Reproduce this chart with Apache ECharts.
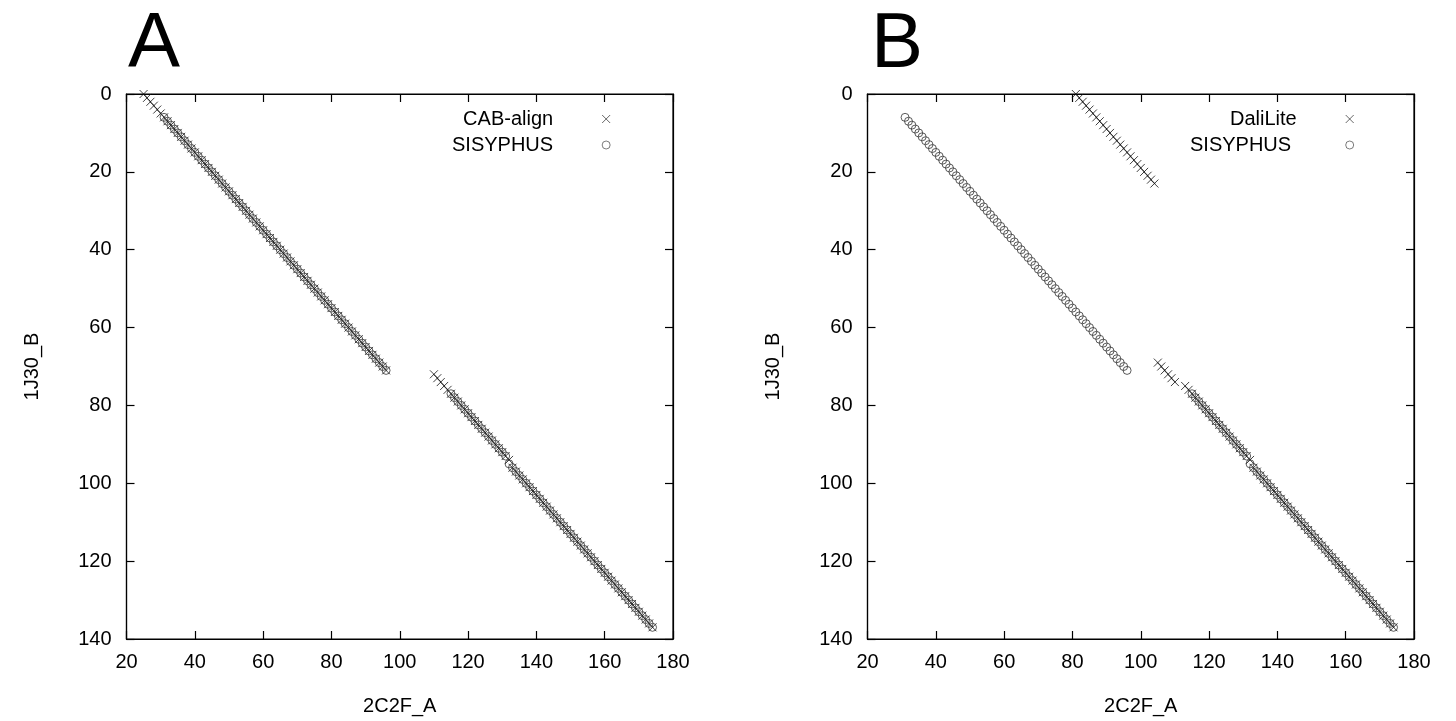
<!DOCTYPE html>
<html>
<head>
<meta charset="utf-8">
<script src="https://cdn.jsdelivr.net/npm/echarts@6/dist/echarts.min.js"></script>
<style>html,body{margin:0;padding:0;background:#fff}#c{width:1456px;height:721px}</style>
</head>
<body>
<div id="c"></div>
<script>
// Panel A: CAB-align alignment (x = 2C2F_A residue, y = 1J30_B residue)
var cabX = [25,26,27,28,29,30,31,32,33,34,35,36,37,38,39,40,41,42,43,44,45,46,47,48,49,50,51,52,53,54,55,56,57,58,59,60,61,62,63,64,65,66,67,68,69,70,71,72,73,74,75,76,77,78,79,80,81,82,83,84,85,86,87,88,89,90,91,92,93,94,95,96,
  110,111,112,113,114,115,116,117,118,119,120,121,122,123,124,125,126,127,128,129,130,131,132,
  133,134,135,136,137,138,139,140,141,142,143,144,145,146,147,148,149,150,151,152,153,154,155,156,157,158,159,160,161,162,163,164,165,166,167,168,169,170,171,172,173,174];
var cabY = [0,1,2,3,4,5,6,7,8,9,10,11,12,13,14,15,16,17,18,19,20,21,22,23,24,25,26,27,28,29,30,31,32,33,34,35,36,37,38,39,40,41,42,43,44,45,46,47,48,49,50,51,52,53,54,55,56,57,58,59,60,61,62,63,64,65,66,67,68,69,70,71,
  72,73,74,75,76,77,78,79,80,81,82,83,84,85,86,87,88,89,90,91,92,93,94,
  96,97,98,99,100,101,102,103,104,105,106,107,108,109,110,111,112,113,114,115,116,117,118,119,120,121,122,123,124,125,126,127,128,129,130,131,132,133,134,135,136,137];

// SISYPHUS alignment (same in both panels)
var sisX = [31,32,33,34,35,36,37,38,39,40,41,42,43,44,45,46,47,48,49,50,51,52,53,54,55,56,57,58,59,60,61,62,63,64,65,66,67,68,69,70,71,72,73,74,75,76,77,78,79,80,81,82,83,84,85,86,87,88,89,90,91,92,93,94,95,96,
  115,116,117,118,119,120,121,122,123,124,125,126,127,128,129,130,131,
  132,133,134,135,136,137,138,139,140,141,142,143,144,145,146,147,148,149,150,151,152,153,154,155,156,157,158,159,160,161,162,163,164,165,166,167,168,169,170,171,172,173,174];
var sisY = [6,7,8,9,10,11,12,13,14,15,16,17,18,19,20,21,22,23,24,25,26,27,28,29,30,31,32,33,34,35,36,37,38,39,40,41,42,43,44,45,46,47,48,49,50,51,52,53,54,55,56,57,58,59,60,61,62,63,64,65,66,67,68,69,70,71,
  77,78,79,80,81,82,83,84,85,86,87,88,89,90,91,92,93,
  95,96,97,98,99,100,101,102,103,104,105,106,107,108,109,110,111,112,113,114,115,116,117,118,119,120,121,122,123,124,125,126,127,128,129,130,131,132,133,134,135,136,137];

// Panel B: DaliLite alignment
var daliX = [81,82,83,84,85,86,87,88,89,90,91,92,93,94,95,96,97,98,99,100,101,102,103,104,
  105,106,107,108,109,110,
  113,114,115,116,117,118,119,120,121,122,123,124,125,126,127,128,129,130,131,132,
  133,134,135,136,137,138,139,140,141,142,143,144,145,146,147,148,149,150,151,152,153,154,155,156,157,158,159,160,161,162,163,164,165,166,167,168,169,170,171,172,173,174];
var daliY = [0,1,2,3,4,5,6,7,8,9,10,11,12,13,14,15,16,17,18,19,20,21,22,23,
  69,70,71,72,73,74,
  75,76,77,78,79,80,81,82,83,84,85,86,87,88,89,90,91,92,93,94,
  96,97,98,99,100,101,102,103,104,105,106,107,108,109,110,111,112,113,114,115,116,117,118,119,120,121,122,123,124,125,126,127,128,129,130,131,132,133,134,135,136,137];

var panelTitles = ['A', 'B'];
var xName = '2C2F_A';
var yName = '1J30_B';
var xRange = [20, 180, 20];
var yRange = [0, 140, 20];

function pairs(xs, ys) {
  var out = [];
  for (var i = 0; i < xs.length; i++) out.push([xs[i], ys[i]]);
  return out;
}

var FONT = '"Liberation Sans", Arial, Helvetica, sans-serif';
var CROSS = 'path://M0,0L10,10M10,0L0,10';

function xAx(grid, top) {
  return {
    type: 'value', gridIndex: grid, min: xRange[0], max: xRange[1], interval: xRange[2],
    position: top ? 'top' : 'bottom',
    name: top ? '' : xName, nameLocation: 'middle', nameGap: 57,
    nameTextStyle: { fontSize: 20, color: '#000', fontFamily: FONT },
    axisLine: { show: true, onZero: false, lineStyle: { color: '#000', width: 1.2 } },
    axisTick: { show: true, inside: true, length: 8, lineStyle: { color: '#000', width: 1.2 } },
    axisLabel: { show: !top, margin: 13, fontSize: 20, color: '#000', fontFamily: FONT },
    splitLine: { show: false }
  };
}
function yAx(grid, right) {
  return {
    type: 'value', gridIndex: grid, min: yRange[0], max: yRange[1], interval: yRange[2],
    inverse: true, position: right ? 'right' : 'left',
    name: right ? '' : yName, nameLocation: 'middle', nameGap: 84, nameRotate: 90,
    nameTextStyle: { fontSize: 20, color: '#000', fontFamily: FONT },
    axisLine: { show: true, onZero: false, lineStyle: { color: '#000', width: 1.2 } },
    axisTick: { show: true, inside: true, length: 8, lineStyle: { color: '#000', width: 1.2 } },
    axisLabel: { show: !right, margin: 15, fontSize: 20, color: '#000', fontFamily: FONT },
    splitLine: { show: false }
  };
}

var crossStyle = { color: 'rgba(0,0,0,0)', borderColor: '#111', borderWidth: 1 };
var circStyle = { color: 'rgba(0,0,0,0)', borderColor: '#333', borderWidth: 1 };

function legendFor(names, left) {
  return {
    orient: 'vertical', left: left, top: 104, align: 'right',
    itemWidth: 96, itemHeight: 8, itemGap: 6, symbolKeepAspect: true,
    data: names,
    itemStyle: { borderWidth: 0.8 },
    textStyle: { fontSize: 20, color: '#000', fontFamily: FONT, width: 110, align: 'right' },
    selectedMode: false
  };
}

var option = {
  backgroundColor: '#fff',
  animation: false,
  title: [
    { text: panelTitles[0], left: 123, top: 1, textStyle: { fontSize: 78, fontWeight: 'normal', color: '#000', fontFamily: FONT } },
    { text: panelTitles[1], left: 866, top: 1, textStyle: { fontSize: 78, fontWeight: 'normal', color: '#000', fontFamily: FONT } }
  ],
  grid: [
    { left: 126.5, top: 94, width: 546.5, height: 547, show: true, borderColor: '#000', borderWidth: 1.2, backgroundColor: 'transparent' },
    { left: 867.5, top: 94, width: 546.5, height: 547, show: true, borderColor: '#000', borderWidth: 1.2, backgroundColor: 'transparent' }
  ],
  xAxis: [xAx(0, false), xAx(0, true), xAx(1, false), xAx(1, true)],
  yAxis: [yAx(0, false), yAx(0, true), yAx(1, false), yAx(1, true)],
  legend: [
    legendFor(['CAB-align', 'SISYPHUS'], 447),
    legendFor(['DaliLite', 'SISYPHUS '], 1185)
  ],
  series: [
    { name: 'CAB-align', type: 'scatter', xAxisIndex: 0, yAxisIndex: 0, symbol: CROSS, symbolSize: 8, itemStyle: crossStyle, data: pairs(cabX, cabY) },
    { name: 'SISYPHUS', type: 'scatter', xAxisIndex: 0, yAxisIndex: 0, symbol: 'circle', symbolSize: 8, itemStyle: circStyle, data: pairs(sisX, sisY) },
    { name: 'DaliLite', type: 'scatter', xAxisIndex: 2, yAxisIndex: 2, symbol: CROSS, symbolSize: 8, itemStyle: crossStyle, data: pairs(daliX, daliY) },
    { name: 'SISYPHUS ', type: 'scatter', xAxisIndex: 2, yAxisIndex: 2, symbol: 'circle', symbolSize: 8, itemStyle: circStyle, data: pairs(sisX, sisY) }
  ]
};

var chart = echarts.init(document.getElementById('c'), null, { renderer: 'canvas' });
chart.setOption(option);
</script>
</body>
</html>
